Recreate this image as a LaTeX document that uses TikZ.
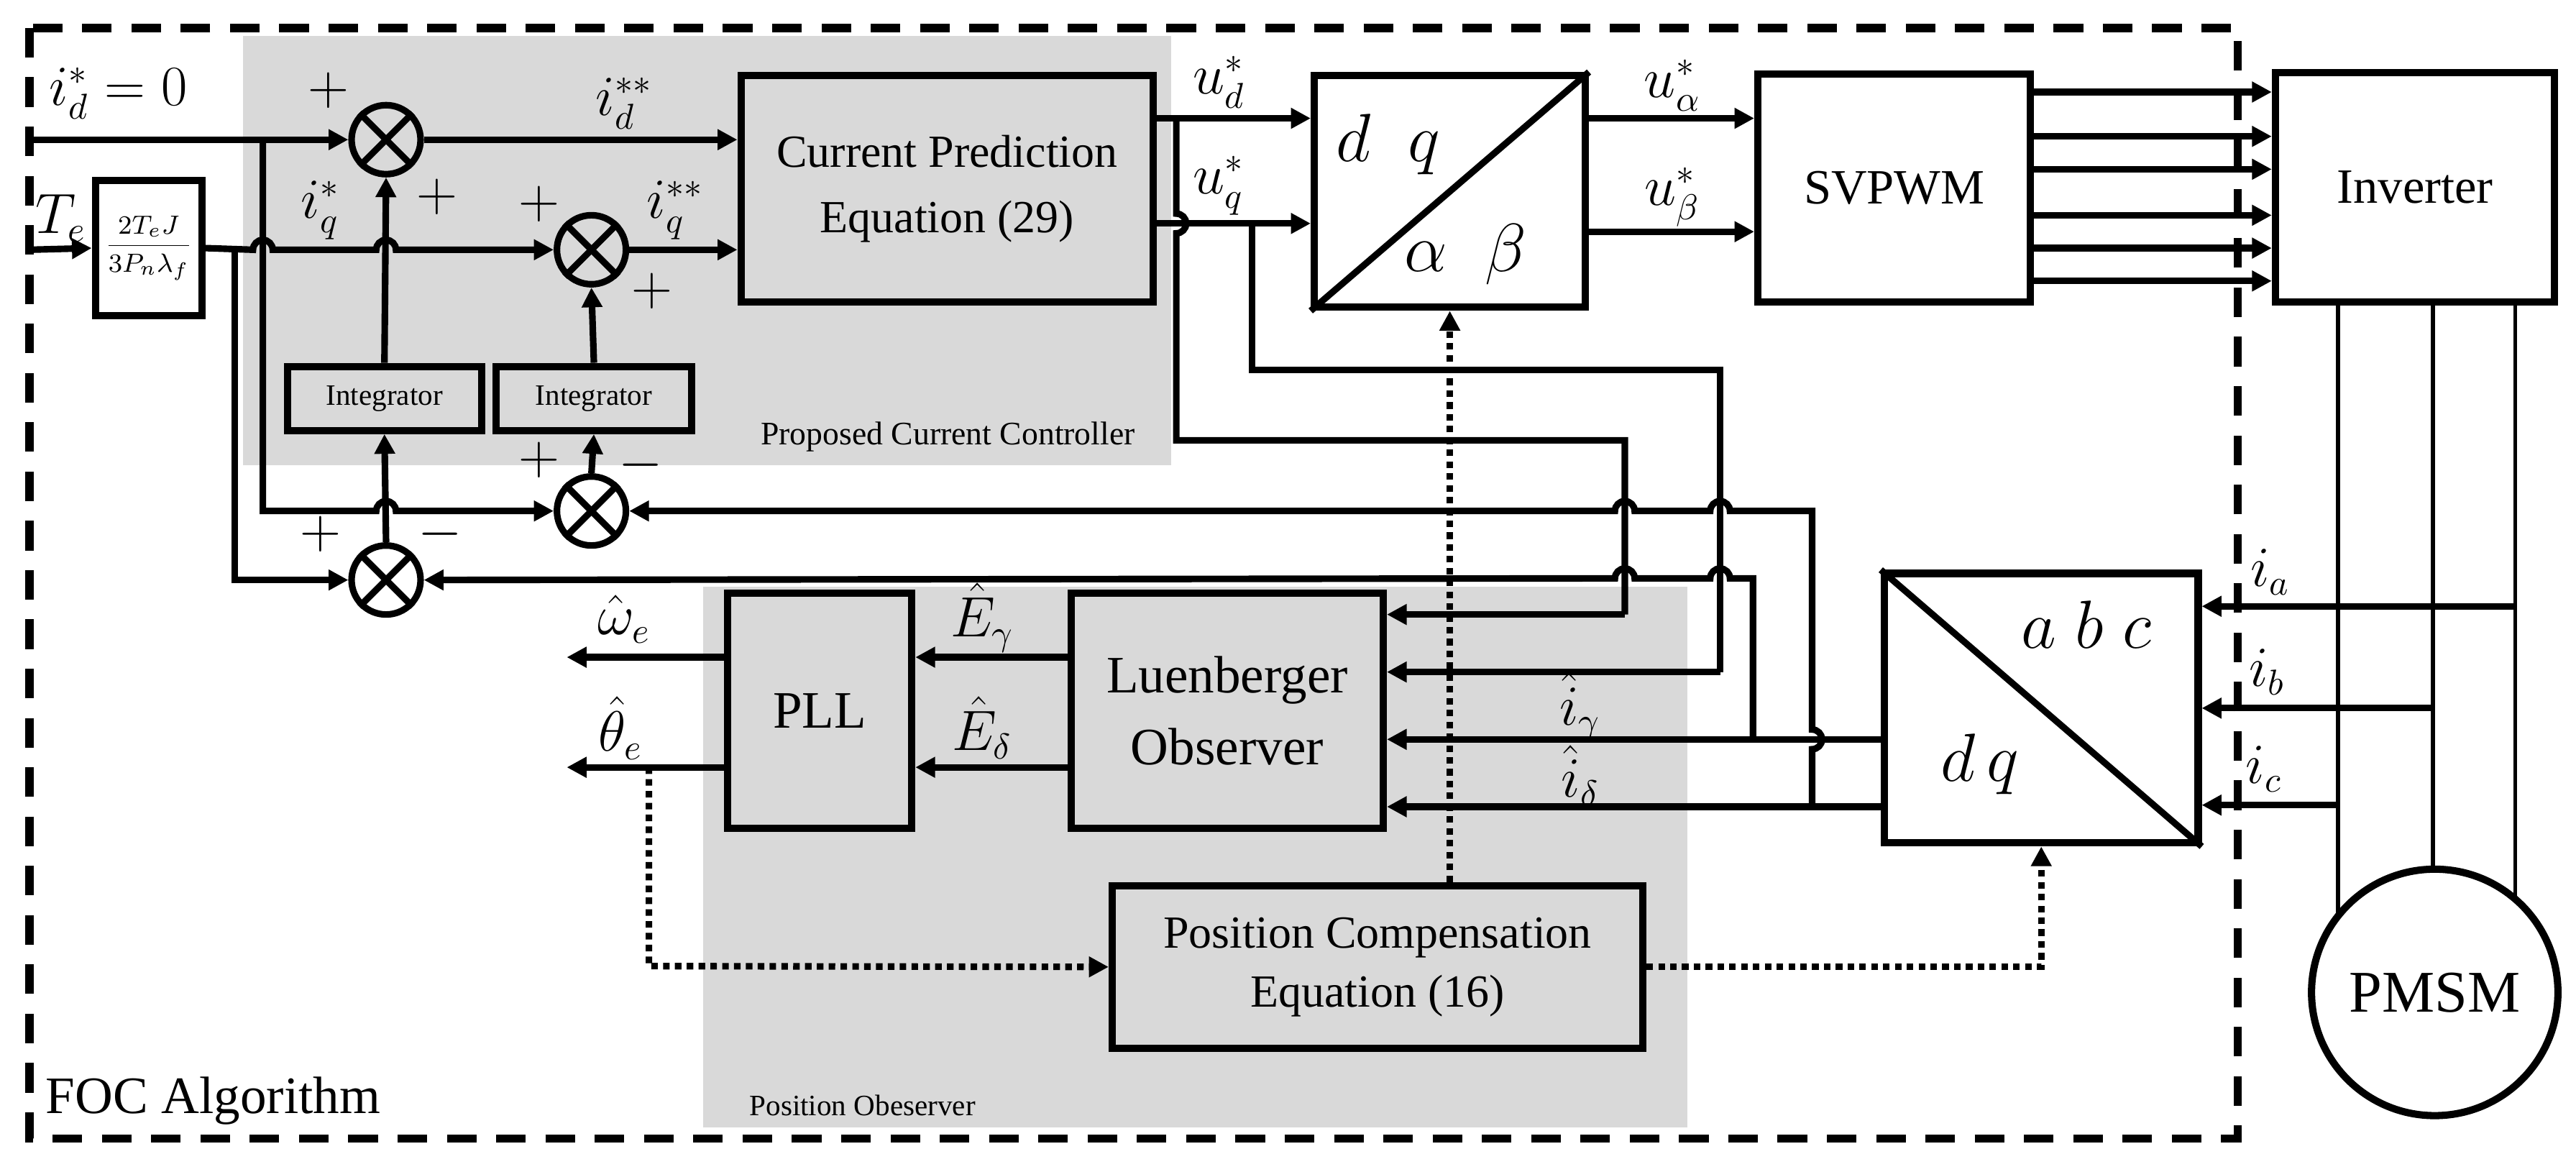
\documentclass[tikz,border=0pt]{standalone}
\usepackage{fontspec}
\setmainfont{Liberation Serif}
\usetikzlibrary{arrows.meta}
\newcommand{\myfs}[1]{\fontsize{#1}{#1}\selectfont}
\begin{document}
\begin{tikzpicture}[x=0.5pt,y=-0.5pt,line width=2pt,
  >={Triangle[length=6pt,width=6pt]},
  blk/.style={draw,line width=2.2pt,fill=gray!30,align=center,inner sep=0pt},
  wblk/.style={blk,fill=white},
  sumn/.style={draw,circle,line width=2pt,minimum size=21pt,inner sep=0pt},
  lab/.style={font=\myfs{16},inner sep=0pt},
  sgn/.style={font=\myfs{18},inner sep=0pt},
  dot/.style={dash pattern=on 2pt off 1.6pt},
  thinl/.style={line width=1.3pt}]
\useasboundingbox (0,0) rectangle (1568,713);
% gray regions
\fill[gray!30] (148,22) rectangle (713,283);
\fill[gray!30] (428,357) rectangle (1027,686);
\node[font=\myfs{10},inner sep=0pt] (pcc) at (577,266) {Proposed Current Controller};
\node[font=\myfs{9},inner sep=0pt] (pob) at (525,673) {Position Obeserver};
% outer dashed
\draw[line width=2.5pt,dash pattern=on 9pt off 6pt] (18,17) rectangle (1362,693);
\node[font=\myfs{16},anchor=west,inner sep=0pt] (foc) at (26,670) {FOC Algorithm};
% boxes
\node[wblk,minimum width=32.5pt,minimum height=41pt] (gain) at (90.5,151) {\myfs{8}$\displaystyle\frac{2T_eJ}{3P_n\lambda_f}$};
\node[blk,minimum width=59pt,minimum height=19.5pt,font=\myfs{9}] (int1) at (234,242.5) {Integrator};
\node[blk,minimum width=59.5pt,minimum height=19.5pt,font=\myfs{9}] (int2) at (361.5,242.5) {Integrator};
\node[blk,minimum width=125.5pt,minimum height=69pt,font=\myfs{14}] (cp) at (576.5,115) {Current Prediction\\[6pt]Equation (29)};
\node[wblk,minimum width=82.5pt,minimum height=70.5pt] (dqab) at (882.5,116.5) {};
\draw[line width=2pt] (dqab.south west) -- (dqab.north east);
\node[font=\myfs{20},inner sep=0pt] (dqt) at (845,88) {$d\;\;q$};
\node[font=\myfs{20},inner sep=0pt] (abt) at (892,155) {$\alpha\;\;\beta$};
\node[wblk,minimum width=83pt,minimum height=69.5pt,font=\myfs{15}] (svp) at (1153,114.5) {SVPWM};
\node[wblk,minimum width=85pt,minimum height=70pt,font=\myfs{15}] (inv) at (1470,114) {Inverter};
\node[wblk,minimum width=95.5pt,minimum height=82pt] (abc) at (1242.5,431) {};
\draw[line width=2pt] (abc.north west) -- (abc.south east);
\node[font=\myfs{20},inner sep=0pt] (abct) at (1270,380) {$a\;b\;c$};
\node[font=\myfs{20},inner sep=0pt] (dqt2) at (1205,465) {$d\,q$};
\node[blk,minimum width=95pt,minimum height=71.5pt,font=\myfs{16}] (lue) at (747,432.5) {Luenberger\\[6pt]Observer};
\node[blk,minimum width=56pt,minimum height=71.5pt,font=\myfs{16}] (pll) at (499,432.5) {PLL};
\node[blk,minimum width=161.5pt,minimum height=49.5pt,font=\myfs{14}] (pc) at (838.5,588.5) {Position Compensation\\[4pt]Equation (16)};
% sums
\foreach \n/\x/\y in {s1/235/85,s2/360/152,s3/360/311,s4/235/353}{
  \node[sumn] (\n) at (\x,\y) {};
  \draw (\n.45) -- (\n.225) (\n.135) -- (\n.315);
}
% coordinates
\coordinate (in1) at (18,85);
\coordinate (in2) at (18,152);
% left part connections
\draw[->] (in1) -- (s1.west);
\draw[->] (in2) -- (gain.west);
\draw[->] (gain.east) -- (154,152) arc(180:0:3pt) -- (229,152) arc(180:0:3pt) -- (s2.west);
\draw[->] (143,152) -- (143,353) -- (s4.west);
\draw[->] (160,85) -- (160,311) -- (229,311) arc(180:0:3pt) -- (s3.west);
\draw[->] (s4.north) -- (int1.south);
\draw[->] (int1.north) -- (s1.south);
\draw[->] (s3.north) -- (int2.south);
\draw[->] (int2.north) -- (s2.south);
\draw[->] (s1.east) -- (cp.west |- s1.east);
\draw[->] (s2.east) -- (cp.west |- s2.east);
% signs
\node[sgn] (p1) at (200,55) {$+$};
\node[sgn] (p2) at (266,120) {$+$};
\node[sgn] (p3) at (328,124) {$+$};
\node[sgn] (p4) at (397,177) {$+$};
\node[sgn] (p5) at (328,280) {$+$};
\node[sgn] (m5) at (390,283) {$-$};
\node[sgn] (p6) at (195,325) {$+$};
\node[sgn] (m6) at (268,325) {$-$};
% labels left
\node[lab] (l1) at (72,57) {$i_d^*=0$};
\node[lab] (l2) at (37,133) {$T_e$};
\node[lab] (l3) at (195,128) {$i_q^*$};
\node[lab] (l4) at (380,63) {$i_d^{**}$};
\node[lab] (l5) at (411,128) {$i_q^{**}$};
% CP outputs
\draw[->] (cp.east |- 0,72) -- (dqab.west |- 0,72);
\draw[->] (cp.east |- 0,136) -- (dqab.west |- 0,136);
\draw (716,72) -- (716,130) arc(90:-90:3pt) -- (716,268) -- (989,268) -- (989,374);
\draw[->] (989,374) -- (lue.east |- 0,374);
\draw (762,136) -- (762,225) -- (1047,225) -- (1047,409);
\draw[->] (1047,409) -- (lue.east |- 0,409);
\node[lab] (l6) at (742,50) {$u_d^*$};
\node[lab] (l7) at (742,113) {$u_q^*$};
% dq -> svpwm
\draw[->] (dqab.east |- 0,72) -- (svp.west |- 0,72);
\draw[->] (dqab.east |- 0,141) -- (svp.west |- 0,141);
\node[lab] (l8) at (1018,52) {$u_\alpha^*$};
\node[lab] (l9) at (1018,120) {$u_\beta^*$};
\foreach \y in {56,83,103,131,151,171}{\draw[->] (svp.east |- 0,\y) -- (inv.west |- 0,\y);}
% motor
\foreach \x in {1423,1481,1531}{\draw[thinl] (inv.south -| \x,0) -- (\x,604);}
\node[draw,circle,line width=2.2pt,fill=white,minimum size=75pt,font=\myfs{18},inner sep=0pt] (pm) at (1482,604) {PMSM};
\draw[->] (1531,369) -- (abc.east |- 0,369);
\draw[->] (1481,431) -- (abc.east |- 0,431);
\draw[->] (1423,490) -- (abc.east |- 0,490);
\node[lab] (la) at (1382,348) {$i_a$};
\node[lab] (lb) at (1380,409) {$i_b$};
\node[lab] (lc) at (1378,468) {$i_c$};
% observer inputs
\draw[->] (abc.west |- 0,450) -- (lue.east |- 0,450);
\draw[->] (abc.west |- 0,491) -- (lue.east |- 0,491);
\node[lab] (lg) at (962,430) {$\hat{i}_\gamma$};
\node[lab] (ld) at (962,472) {$\hat{i}_\delta$};
\draw[->] (1067,450) -- (1067,352) -- (1053,352) arc(0:180:3pt) -- (995,352) arc(0:180:3pt) -- (s4.east);
\draw[->] (1103,491) -- (1103,456) arc(-90:90:3pt) -- (1103,311) -- (1053,311) arc(0:180:3pt) -- (995,311) arc(0:180:3pt) -- (s3.east);
% lue -> pll
\draw[->] (lue.west |- 0,400) -- (pll.east |- 0,400);
\draw[->] (lue.west |- 0,467) -- (pll.east |- 0,467);
\node[lab] (le1) at (598,376) {$\hat{E}_\gamma$};
\node[lab] (le2) at (598,443) {$\hat{E}_\delta$};
\coordinate (ow) at (345,400);
\coordinate (ot) at (345,467);
\draw[->] (pll.west |- ow) -- (ow);
\draw[->] (pll.west |- ot) -- (ot);
\node[lab] (lw) at (380,377) {$\hat{\omega}_e$};
\node[lab] (lt) at (378,443) {$\hat{\theta}_e$};
% dotted
\draw[dot,->] (395,467) -- (395,588) -- (pc.west);
\draw[dot,->] (pc.east) -- (abc.south |- pc.east) -- (abc.south);
\draw[dot,->] (pc.north -| dqab.south) -- (dqab.south);
\end{tikzpicture}
\end{document}
